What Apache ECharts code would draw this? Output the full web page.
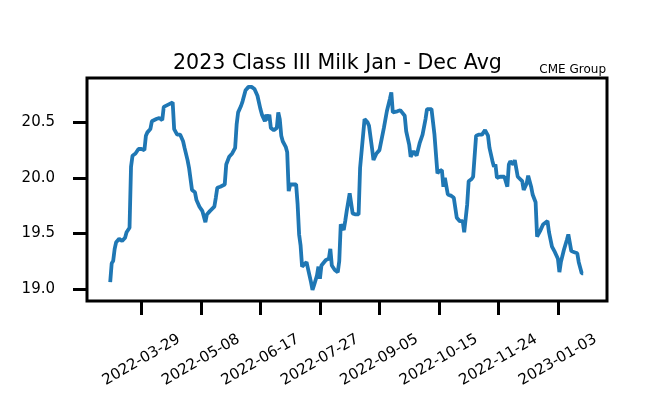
<!DOCTYPE html>
<html lang="en">
<head>
    <meta charset="UTF-8">
    <title>2023 Class III Milk Jan - Dec Avg</title>
    <script src="https://cdn.jsdelivr.net/npm/echarts@6/dist/echarts.min.js"></script>
    <style>
        html, body { margin: 0; padding: 0; background: #fff; }
        #box { width: 656px; height: 415px; }
    </style>
</head>
<body>
<div id="box"></div>
<script>
    // day offsets from startDate
    var startDate = '2022-03-29';
    var days = [
        -21, -20, -19, -18, -17, -15, -13, -11, -10, -8,
        -7, -6, -4, -2, 0, 2, 3, 4, 6, 7,
        8, 10, 12, 14, 15, 18, 21, 22, 24, 26,
        28, 29, 31, 32, 34, 36, 37, 39, 41, 43,
        44, 46, 49, 50, 51, 53, 56, 57, 59, 61,
        63, 64, 65, 67, 68, 70, 72, 74, 76, 78,
        80, 81, 83, 84, 85, 86, 87, 89, 90, 91,
        92, 93, 94, 95, 97, 98, 99, 100, 102, 104,
        105, 106, 107, 108, 109, 111, 112, 114, 115, 116,
        118, 119, 120, 121, 122, 124, 126, 127, 128, 130,
        132, 133, 134, 136, 137, 138, 140, 141, 142, 144,
        146, 147, 148, 150, 152, 153, 155, 156, 158, 160,
        163, 165, 167, 168, 169, 172, 174, 175, 177, 178,
        180, 181, 183, 185, 187, 189, 191, 192, 195, 197,
        199, 200, 202, 203, 204, 205, 206, 208, 210, 211,
        212, 214, 216, 217, 218, 219, 220, 222, 223, 225,
        227, 229, 231, 233, 234, 236, 237, 238, 239, 241,
        244, 246, 247, 248, 250, 251, 253, 254, 256, 257,
        259, 260, 262, 263, 265, 266, 268, 270, 273, 274,
        275, 276, 278, 280, 281, 282, 284, 286, 287, 289,
        291, 293, 294, 296, 297
    ];
    var prices = [
        19.06, 19.23, 19.25, 19.36, 19.42, 19.45, 19.43, 19.46, 19.51, 19.55,
        20.10, 20.20, 20.22, 20.26, 20.26, 20.25, 20.38, 20.41, 20.44, 20.51,
        20.50, 20.53, 20.54, 20.52, 20.64, 20.66, 20.68, 20.44, 20.39, 20.39,
        20.33, 20.27, 20.16, 20.09, 19.89, 19.87, 19.80, 19.74, 19.70, 19.60,
        19.67, 19.70, 19.74, 19.82, 19.91, 19.92, 19.94, 20.12, 20.19, 20.22,
        20.27, 20.48, 20.59, 20.65, 20.69, 20.79, 20.82, 20.82, 20.80, 20.74,
        20.62, 20.57, 20.51, 20.57, 20.52, 20.57, 20.45, 20.43, 20.42, 20.45,
        20.59, 20.53, 20.38, 20.33, 20.28, 20.23, 19.88, 19.94, 19.94, 19.94,
        19.76, 19.49, 19.39, 19.20, 19.21, 19.24, 19.18, 19.06, 18.99, 19.03,
        19.12, 19.20, 19.09, 19.21, 19.21, 19.26, 19.27, 19.36, 19.21, 19.17,
        19.15, 19.25, 19.58, 19.53, 19.61, 19.70, 19.86, 19.86, 19.68, 19.67,
        19.67, 20.09, 20.09, 20.53, 20.50, 20.47, 20.27, 20.16, 20.22, 20.25,
        20.45, 20.60, 20.71, 20.77, 20.59, 20.60, 20.61, 20.60, 20.56, 20.42,
        20.30, 20.19, 20.24, 20.20, 20.31, 20.39, 20.53, 20.62, 20.62, 20.39,
        20.04, 20.06, 20.07, 19.92, 20.00, 20.00, 19.85, 19.84, 19.82, 19.73,
        19.64, 19.61, 19.61, 19.51, 19.52, 19.76, 19.97, 19.99, 20.01, 20.38,
        20.39, 20.39, 20.43, 20.38, 20.27, 20.15, 20.10, 20.12, 20.00, 20.01,
        20.01, 19.92, 20.12, 20.15, 20.12, 20.16, 20.01, 20.00, 19.97, 19.89,
        19.95, 20.02, 19.92, 19.85, 19.78, 19.47, 19.52, 19.58, 19.61, 19.51,
        19.52, 19.38, 19.33, 19.27, 19.15, 19.24, 19.35, 19.44, 19.49, 19.34,
        19.33, 19.32, 19.24, 19.14, 19.14
    ];
    var xTickLabels = ['2022-03-29', '2022-05-08', '2022-06-17', '2022-07-27',
                       '2022-09-05', '2022-10-15', '2022-11-24', '2023-01-03'];
    var yTicks = [19.0, 19.5, 20.0, 20.5];

    var DAY = 86400000;
    var t0 = Date.parse(startDate);
    var points = days.map(function (d, i) { return [t0 + d * DAY, prices[i]]; });
    var xTicks = xTickLabels.map(function (s) { return Date.parse(s); });

    var font = 'DejaVu Sans';
    var chart = echarts.init(document.getElementById('box'));
    var option = {
        animation: false,
        backgroundColor: '#fff',
        title: {
            text: '2023 Class III Milk Jan - Dec Avg',
            left: 173,
            top: 53,
            padding: 0,
            textStyle: { fontFamily: font, fontSize: 20.6, fontWeight: 'normal', color: '#000' }
        },
        graphic: [{
            type: 'text',
            right: 50,
            top: 64,
            style: { text: 'CME Group', fontFamily: font, fontSize: 12, fill: '#000' }
        }],
        grid: {
            left: 87, right: 49, top: 78, bottom: 114,
            show: true, borderColor: '#000', borderWidth: 3
        },
        xAxis: {
            type: 'value',
            min: t0 - 36.6 * DAY,
            max: t0 + 313 * DAY,
            splitLine: { show: false },
            axisLine: { show: false },
            axisTick: {
                show: true, length: 14, inside: false, customValues: xTicks,
                lineStyle: { color: '#000', width: 3 }
            },
            axisLabel: {
                customValues: xTicks,
                rotate: 30,
                align: 'center',
                verticalAlign: 'middle',
                margin: 59,
                fontFamily: font,
                fontSize: 15,
                color: '#000',
                formatter: function (v) { return new Date(v).toISOString().slice(0, 10); }
            }
        },
        yAxis: {
            type: 'value',
            min: 18.89,
            max: 20.90,
            splitLine: { show: false },
            axisLine: { show: false },
            axisTick: {
                show: true, length: 14, inside: false, customValues: yTicks,
                lineStyle: { color: '#000', width: 3 }
            },
            axisLabel: {
                customValues: yTicks,
                margin: 32,
                fontFamily: font,
                fontSize: 15,
                color: '#000',
                formatter: function (v) { return v.toFixed(1); }
            }
        },
        series: [{
            type: 'line',
            data: points,
            showSymbol: false,
            lineStyle: { color: '#1f77b4', width: 3.8 },
            itemStyle: { color: '#1f77b4' }
        }]
    };
    chart.setOption(option);
</script>
</body>
</html>
